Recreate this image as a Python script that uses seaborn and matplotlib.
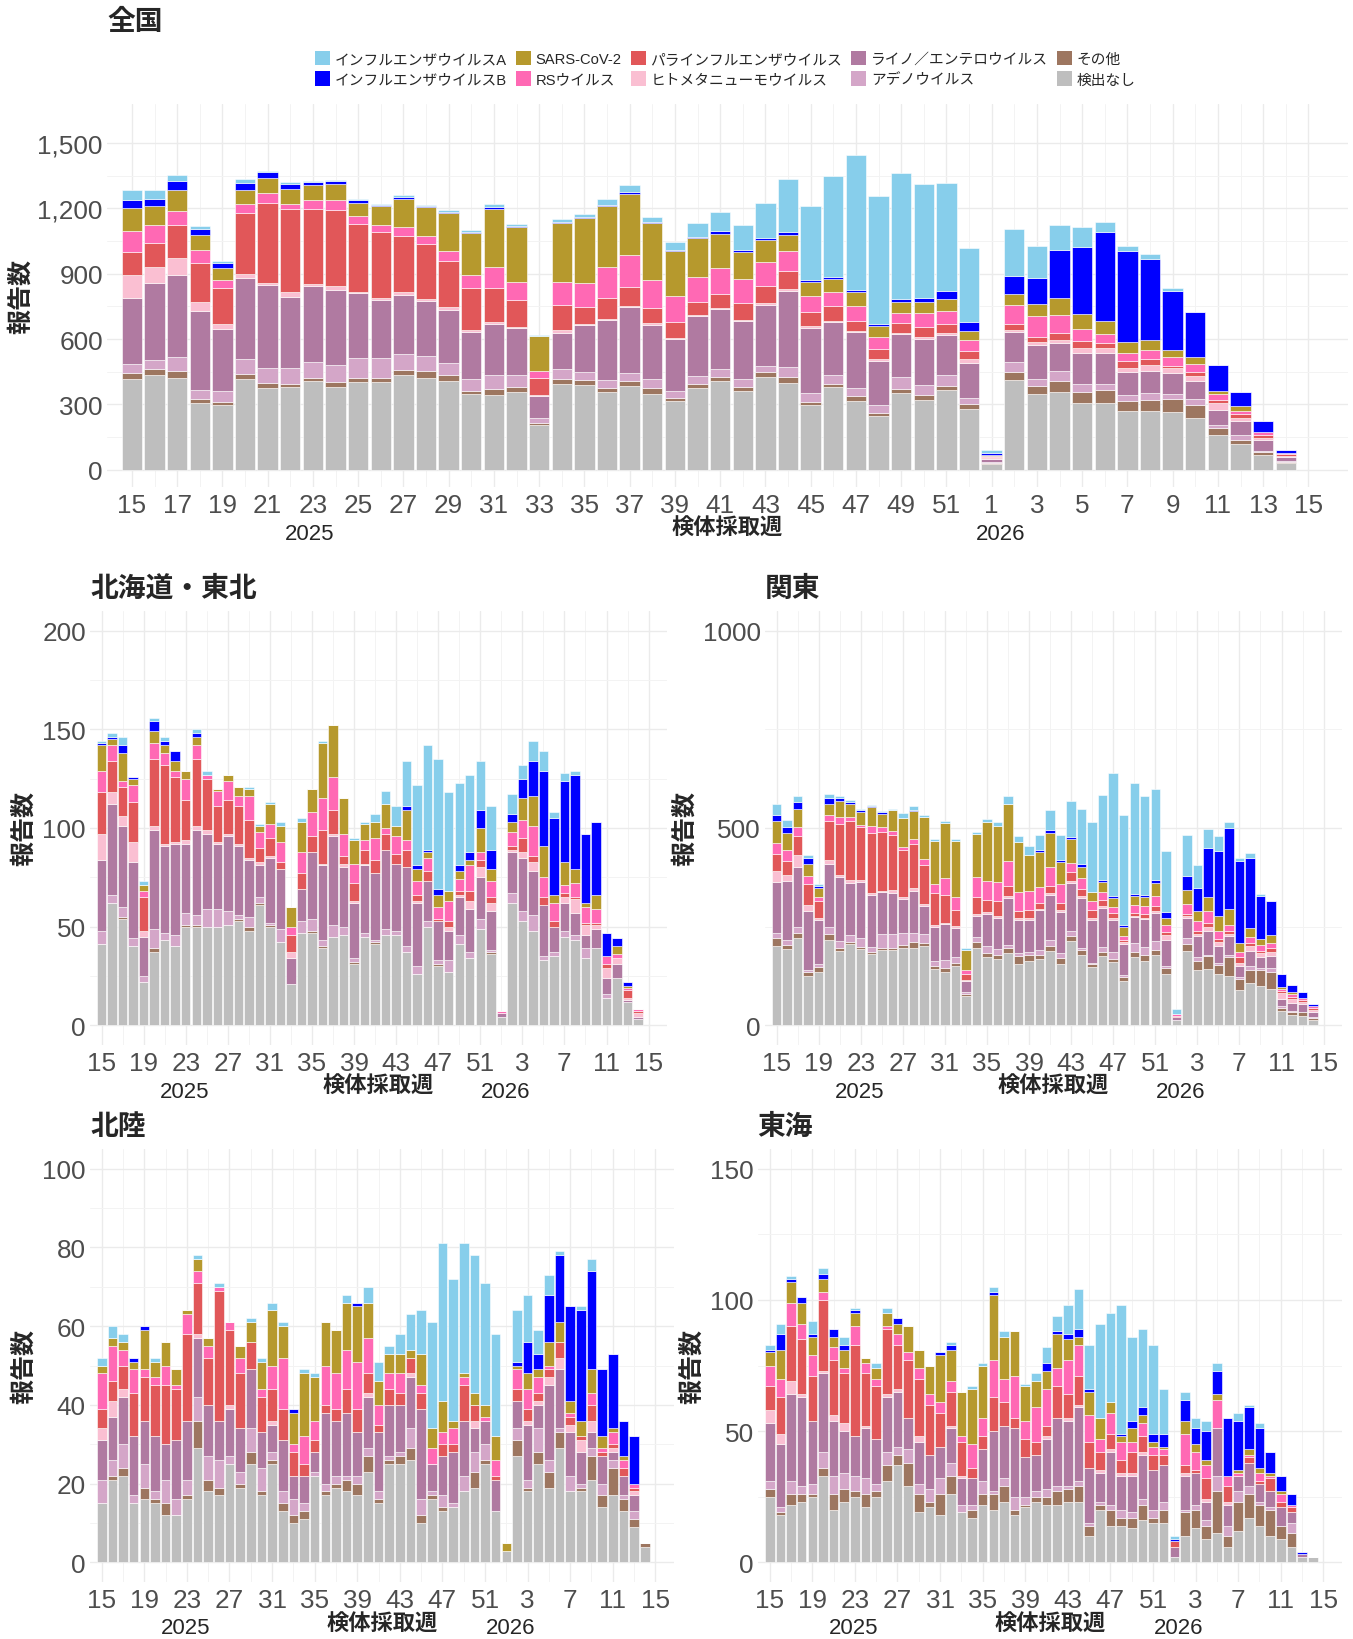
import pandas as pd
import matplotlib
matplotlib.use("Agg")
import matplotlib.pyplot as plt
from matplotlib.patches import Patch
from matplotlib.transforms import blended_transform_factory
import seaborn as sns

# stacking order as in the source: first item on top, last at the bottom
categories = ["インフルエンザウイルスA", "インフルエンザウイルスB", "SARS-CoV-2", "RSウイルス",
              "パラインフルエンザウイルス", "ヒトメタニューモウイルス", "ライノ／エンテロウイルス",
              "アデノウイルス", "その他", "検出なし"]
colors = ["#87CEEB", "#0000FF", "#B6992D", "#FF69B4", "#E15759",
          "#FABFD2", "#B07AA1", "#D4A6C8", "#9D7660", "#BEBEBE"]

# 2025 w15 .. w52, 2026 w1 .. w14 (last tick label 15 has no bar)
weeks = list(range(15, 53)) + list(range(1, 15))
week_labels = weeks + [15]

# ---- 全国 ----
nat_flu_a = [43, 41, 28, 11, 9, 18, 8, 9, 6, 6, 6, 3, 9, 5, 9, 9, 12, 9, 6, 15, 15, 26, 32, 23, 34, 63, 89, 115, 162, 242, 344, 464, 623, 591, 579, 527, 496, 341,
             11, 217, 149, 115, 90, 46, 24, 24, 11, 2, 0, 0, 0, 0]
nat_flu_b = [37, 35, 38, 31, 21, 34, 24, 20, 14, 12, 12, 5, 9, 6, 6, 6, 9, 6, 0, 3, 5, 6, 8, 6, 6, 5, 11, 8, 9, 12, 8, 8, 8, 6, 15, 18, 35, 40,
             8, 81, 118, 219, 308, 407, 418, 371, 271, 205, 118, 66, 49, 11]
nat_sars = [107, 87, 96, 66, 54, 61, 70, 69, 67, 75, 61, 89, 127, 133, 173, 194, 269, 251, 159, 273, 297, 283, 280, 262, 204, 181, 156, 122, 100, 77, 63, 63, 66, 54, 51, 51, 57, 41,
            6, 51, 57, 77, 69, 61, 52, 46, 32, 35, 15, 21, 0, 0]
nat_rsv = [96, 80, 64, 61, 38, 43, 49, 24, 40, 44, 35, 31, 43, 38, 47, 58, 93, 84, 34, 104, 112, 139, 147, 127, 124, 113, 122, 110, 109, 92, 73, 64, 67, 54, 47, 64, 61, 54,
           6, 87, 95, 83, 58, 41, 37, 40, 41, 35, 28, 14, 15, 8]
nat_para = [104, 112, 153, 181, 168, 279, 366, 384, 348, 352, 314, 303, 259, 250, 213, 193, 158, 121, 78, 118, 77, 98, 90, 70, 73, 60, 63, 78, 78, 80, 63, 66, 46, 46, 44, 47, 40, 34,
            6, 29, 24, 31, 31, 23, 31, 29, 12, 18, 12, 20, 15, 9]
nat_hmpv = [106, 72, 80, 41, 20, 20, 8, 20, 9, 18, 3, 9, 11, 11, 11, 12, 9, 8, 6, 11, 5, 6, 6, 8, 5, 6, 6, 8, 11, 11, 11, 8, 6, 8, 6, 9, 11, 21,
            3, 9, 12, 15, 23, 21, 18, 26, 23, 21, 31, 15, 8, 3]
nat_rhino = [303, 354, 375, 363, 288, 374, 383, 329, 348, 343, 300, 268, 274, 254, 245, 216, 236, 213, 98, 165, 217, 273, 302, 250, 236, 274, 277, 263, 279, 349, 300, 240, 254, 201, 198, 207, 181, 159,
             12, 138, 156, 130, 141, 142, 104, 100, 96, 86, 72, 64, 49, 17]
nat_adeno = [44, 44, 67, 41, 49, 67, 70, 70, 73, 80, 92, 90, 73, 66, 57, 55, 61, 57, 24, 49, 38, 37, 38, 41, 31, 37, 34, 37, 29, 47, 41, 44, 40, 40, 52, 47, 54, 29,
             5, 46, 35, 47, 37, 28, 29, 32, 24, 26, 15, 20, 5, 5]
nat_other = [28, 26, 28, 15, 15, 24, 21, 14, 14, 21, 20, 17, 21, 32, 24, 11, 28, 21, 9, 23, 20, 21, 21, 29, 17, 18, 20, 21, 21, 26, 15, 12, 23, 12, 20, 26, 18, 23,
             5, 35, 35, 47, 52, 61, 47, 51, 58, 58, 28, 21, 15, 8]
nat_none = [415, 435, 423, 308, 295, 415, 375, 381, 407, 381, 401, 404, 436, 423, 409, 348, 344, 358, 205, 392, 390, 355, 384, 346, 314, 377, 406, 360, 426, 398, 295, 380, 314, 246, 352, 318, 364, 277,
            26, 413, 348, 358, 306, 306, 268, 271, 265, 239, 161, 116, 66, 28]

# ---- 北海道・東北 ----
hok_flu_a = [1, 2, 4, 0, 2, 2, 2, 0, 0, 2, 2, 0, 0, 0, 1, 1, 1, 2, 0, 2, 0, 1, 0, 0, 1, 1, 4, 7, 10, 23, 41, 53, 66, 50, 42, 39, 25, 22,
             0, 10, 7, 10, 10, 3, 4, 2, 0, 0, 0, 0, 0, 0]
hok_flu_b = [1, 1, 4, 1, 0, 5, 2, 5, 0, 2, 0, 0, 0, 0, 0, 0, 0, 0, 0, 0, 0, 0, 0, 0, 0, 0, 0, 0, 0, 2, 2, 1, 3, 0, 3, 4, 9, 10,
             0, 4, 10, 18, 38, 39, 41, 48, 35, 37, 12, 4, 2, 0]
hok_sars = [13, 3, 14, 3, 3, 6, 4, 5, 4, 4, 0, 1, 3, 5, 4, 3, 10, 8, 10, 15, 12, 28, 26, 18, 12, 8, 8, 12, 5, 15, 6, 3, 6, 5, 4, 3, 12, 6,
            0, 5, 11, 15, 16, 4, 12, 7, 2, 7, 0, 4, 1, 0]
hok_rsv = [11, 8, 3, 9, 3, 8, 6, 3, 11, 7, 2, 8, 10, 5, 12, 8, 7, 10, 4, 11, 12, 16, 17, 11, 10, 5, 11, 3, 9, 5, 7, 7, 6, 10, 6, 13, 4, 8,
           1, 7, 9, 15, 10, 9, 4, 7, 8, 7, 4, 2, 1, 1]
hok_para = [21, 16, 15, 20, 17, 34, 40, 33, 20, 34, 26, 18, 17, 19, 19, 7, 9, 4, 9, 8, 8, 17, 12, 4, 9, 7, 7, 8, 5, 9, 3, 5, 1, 3, 2, 5, 4, 3,
            0, 2, 7, 3, 4, 3, 2, 1, 1, 1, 2, 0, 4, 1]
hok_hmpv = [13, 6, 5, 10, 3, 2, 1, 1, 2, 2, 2, 1, 1, 1, 1, 2, 1, 0, 3, 0, 0, 1, 1, 2, 1, 1, 0, 0, 0, 0, 1, 0, 0, 2, 1, 4, 5, 4,
            0, 1, 3, 5, 0, 0, 3, 7, 5, 2, 5, 3, 1, 2]
hok_rhino = [36, 46, 41, 39, 20, 50, 44, 46, 35, 43, 38, 33, 38, 35, 29, 16, 33, 30, 13, 16, 34, 38, 45, 30, 28, 34, 34, 40, 34, 40, 32, 20, 20, 15, 19, 22, 21, 20,
             2, 21, 27, 22, 26, 13, 14, 11, 7, 10, 8, 7, 1, 1]
hok_adeno = [7, 4, 5, 4, 3, 10, 4, 6, 6, 5, 9, 9, 7, 2, 5, 3, 1, 7, 0, 6, 6, 3, 6, 4, 2, 2, 1, 3, 2, 3, 4, 3, 2, 6, 5, 3, 5, 1,
             0, 5, 5, 8, 2, 2, 3, 3, 5, 0, 2, 0, 0, 0]
hok_other = [0, 0, 1, 0, 0, 2, 0, 0, 1, 1, 0, 0, 0, 1, 2, 1, 1, 0, 0, 0, 1, 1, 0, 0, 1, 0, 1, 0, 0, 0, 0, 0, 1, 0, 0, 0, 0, 1,
             0, 0, 0, 0, 0, 0, 0, 0, 0, 0, 0, 0, 0, 0]
hok_none = [41, 62, 54, 40, 22, 37, 43, 40, 50, 50, 50, 50, 51, 53, 48, 61, 50, 42, 21, 47, 47, 39, 45, 46, 31, 45, 41, 46, 46, 37, 26, 50, 30, 27, 41, 34, 49, 36,
            4, 62, 53, 48, 33, 35, 45, 43, 34, 39, 14, 24, 12, 3]

# ---- 関東 ----
kan_flu_a = [26, 18, 13, 8, 5, 12, 4, 5, 2, 2, 3, 3, 12, 9, 5, 5, 6, 6, 5, 5, 9, 12, 22, 16, 23, 38, 52, 63, 92, 140, 178, 214, 312, 281, 281, 250, 229, 155,
             12, 103, 57, 48, 37, 14, 9, 11, 5, 0, 0, 2, 0, 0]
kan_flu_b = [16, 14, 18, 14, 5, 14, 8, 6, 4, 4, 5, 0, 0, 4, 0, 0, 0, 0, 0, 0, 0, 0, 0, 0, 0, 5, 6, 6, 6, 6, 0, 5, 5, 3, 5, 5, 9, 15,
             0, 36, 59, 124, 165, 206, 208, 179, 109, 86, 33, 16, 14, 6]
kan_sars = [57, 43, 47, 30, 23, 29, 39, 33, 33, 49, 33, 52, 72, 71, 107, 108, 138, 140, 52, 110, 149, 140, 144, 126, 91, 89, 86, 54, 59, 28, 23, 27, 24, 24, 23, 24, 32, 18,
            0, 36, 24, 36, 39, 41, 23, 23, 14, 21, 5, 7, 0, 0]
kan_rsv = [26, 29, 23, 21, 11, 14, 18, 9, 5, 17, 11, 11, 9, 11, 16, 24, 43, 34, 10, 50, 47, 50, 62, 48, 48, 40, 48, 50, 23, 29, 23, 20, 14, 9, 20, 19, 26, 16,
           5, 24, 27, 30, 20, 14, 11, 14, 16, 14, 7, 6, 5, 5]
kan_para = [45, 36, 48, 53, 43, 100, 131, 152, 134, 152, 150, 138, 118, 113, 97, 81, 71, 41, 15, 43, 32, 36, 27, 18, 20, 16, 20, 18, 24, 18, 18, 15, 14, 7, 7, 11, 12, 8,
            3, 7, 7, 11, 7, 7, 16, 9, 5, 9, 5, 6, 6, 5]
kan_hmpv = [28, 15, 29, 16, 5, 8, 5, 6, 5, 5, 4, 9, 5, 7, 5, 5, 4, 4, 3, 5, 5, 5, 5, 5, 5, 3, 3, 5, 5, 5, 5, 5, 5, 4, 3, 3, 5, 13,
            0, 5, 5, 9, 11, 6, 9, 12, 11, 11, 15, 9, 5, 5]
kan_rhino = [129, 150, 154, 149, 111, 161, 161, 133, 144, 131, 105, 104, 86, 107, 72, 86, 91, 75, 26, 53, 79, 79, 118, 84, 81, 101, 116, 104, 120, 127, 109, 98, 81, 78, 65, 70, 71, 65,
             6, 50, 54, 63, 41, 48, 27, 38, 27, 30, 18, 21, 21, 11]
kan_adeno = [13, 11, 14, 6, 9, 18, 18, 16, 21, 14, 36, 36, 32, 23, 23, 14, 20, 14, 5, 14, 19, 16, 7, 8, 9, 12, 14, 12, 14, 3, 3, 14, 16, 6, 23, 21, 24, 6,
             0, 15, 9, 2, 5, 6, 5, 11, 6, 11, 3, 3, 0, 4]
kan_other = [18, 11, 14, 9, 11, 14, 8, 7, 6, 5, 6, 5, 7, 14, 7, 6, 9, 9, 5, 14, 9, 11, 13, 19, 14, 11, 14, 14, 12, 14, 9, 9, 9, 9, 14, 15, 12, 16,
             0, 19, 23, 33, 25, 48, 27, 33, 39, 42, 9, 8, 9, 4]
kan_none = [202, 193, 220, 125, 136, 217, 188, 205, 193, 180, 190, 190, 196, 196, 201, 143, 136, 149, 75, 196, 174, 167, 184, 156, 163, 167, 187, 156, 214, 178, 147, 176, 160, 113, 172, 163, 178, 129,
            14, 187, 140, 142, 129, 124, 90, 106, 100, 92, 36, 25, 24, 14]

# ---- 北陸 ----
hkr_flu_a = [2, 3, 2, 0, 0, 1, 0, 0, 0, 1, 0, 1, 0, 0, 1, 1, 2, 1, 0, 1, 1, 0, 0, 2, 0, 4, 5, 2, 5, 9, 11, 27, 40, 36, 33, 35, 31, 26,
             0, 13, 12, 6, 5, 1, 0, 1, 3, 0, 0, 0, 0, 0]
hkr_flu_b = [0, 0, 0, 1, 1, 0, 0, 0, 0, 0, 0, 0, 0, 0, 0, 0, 0, 0, 1, 0, 0, 0, 0, 0, 1, 0, 0, 0, 0, 0, 0, 0, 0, 0, 0, 0, 0, 0,
             0, 1, 8, 4, 12, 17, 24, 28, 25, 17, 19, 9, 12, 0]
hkr_sars = [2, 2, 2, 2, 10, 4, 6, 4, 1, 3, 2, 0, 0, 3, 5, 7, 14, 8, 8, 16, 11, 11, 11, 12, 14, 9, 6, 5, 5, 2, 8, 5, 8, 2, 1, 3, 3, 6,
            2, 1, 4, 2, 6, 5, 3, 4, 6, 3, 1, 1, 0, 0]
hkr_rsv = [9, 9, 4, 6, 2, 2, 5, 1, 5, 3, 3, 1, 2, 4, 0, 2, 6, 13, 2, 7, 5, 10, 9, 10, 12, 9, 5, 4, 5, 0, 2, 4, 3, 4, 2, 0, 1, 4,
           0, 5, 5, 4, 1, 0, 1, 0, 3, 1, 3, 2, 1, 0]
hkr_para = [5, 5, 6, 11, 11, 13, 15, 13, 22, 13, 12, 33, 19, 14, 7, 9, 8, 8, 6, 3, 3, 2, 3, 6, 6, 5, 2, 4, 3, 4, 4, 0, 3, 2, 9, 4, 0, 1,
            0, 3, 3, 2, 2, 4, 2, 1, 4, 1, 1, 2, 1, 0]
hkr_hmpv = [3, 4, 2, 0, 0, 0, 0, 0, 0, 1, 0, 0, 1, 0, 0, 0, 1, 0, 0, 0, 0, 0, 0, 0, 0, 1, 0, 0, 0, 1, 0, 0, 0, 0, 0, 2, 0, 0,
            0, 0, 1, 1, 2, 3, 2, 3, 3, 0, 1, 0, 1, 0]
hkr_rhino = [10, 11, 12, 15, 11, 14, 9, 15, 15, 15, 13, 10, 12, 11, 15, 9, 7, 13, 6, 7, 5, 18, 14, 16, 11, 13, 15, 13, 12, 13, 23, 7, 10, 13, 14, 6, 6, 8,
             0, 7, 14, 6, 19, 15, 11, 8, 4, 7, 2, 5, 4, 0]
hkr_adeno = [6, 4, 6, 2, 6, 2, 6, 4, 4, 6, 6, 7, 2, 3, 6, 6, 2, 3, 4, 2, 1, 2, 2, 1, 2, 2, 2, 1, 1, 5, 4, 1, 3, 1, 4, 5, 4, 0,
             0, 3, 2, 6, 3, 1, 4, 1, 2, 3, 2, 1, 2, 0]
hkr_other = [0, 1, 2, 0, 3, 1, 3, 0, 1, 7, 3, 2, 0, 1, 3, 1, 1, 2, 2, 2, 0, 1, 1, 3, 3, 4, 1, 1, 2, 3, 2, 1, 1, 0, 0, 4, 1, 0,
             0, 4, 1, 3, 4, 4, 0, 1, 6, 3, 7, 3, 2, 1]
hkr_none = [15, 21, 22, 15, 16, 15, 12, 12, 16, 29, 18, 17, 25, 19, 25, 17, 25, 13, 10, 11, 22, 17, 19, 18, 17, 23, 15, 25, 25, 26, 10, 16, 13, 14, 18, 19, 25, 13,
            3, 27, 18, 25, 19, 29, 18, 18, 21, 14, 17, 13, 9, 4]

# ---- 東海 ----
tok_flu_a = [2, 4, 1, 0, 5, 2, 0, 3, 1, 0, 2, 2, 0, 0, 0, 0, 0, 1, 0, 1, 1, 2, 2, 0, 1, 3, 6, 6, 11, 15, 17, 36, 34, 49, 32, 30, 34, 17,
             1, 3, 4, 4, 3, 0, 3, 1, 2, 0, 0, 0, 0, 0]
tok_flu_b = [1, 6, 1, 2, 1, 2, 3, 2, 1, 0, 0, 0, 2, 0, 0, 0, 1, 2, 0, 0, 0, 1, 0, 0, 0, 0, 3, 1, 2, 3, 1, 0, 0, 1, 3, 3, 3, 5,
             1, 8, 6, 11, 9, 22, 19, 16, 15, 8, 6, 4, 1, 0]
tok_sars = [5, 11, 8, 8, 7, 5, 4, 7, 5, 2, 4, 5, 4, 10, 7, 11, 18, 12, 17, 21, 20, 25, 16, 17, 13, 10, 7, 13, 8, 3, 9, 8, 4, 2, 5, 3, 2, 1,
            0, 5, 3, 2, 2, 0, 1, 2, 2, 1, 1, 0, 0, 0]
tok_rsv = [8, 7, 9, 6, 8, 3, 5, 2, 7, 4, 3, 1, 4, 3, 4, 4, 4, 4, 2, 9, 7, 14, 9, 16, 7, 13, 14, 7, 13, 12, 10, 5, 8, 7, 4, 5, 3, 2,
           0, 12, 7, 5, 11, 4, 1, 1, 3, 1, 3, 1, 0, 0]
tok_para = [9, 14, 21, 21, 17, 27, 21, 19, 35, 20, 20, 25, 17, 22, 22, 19, 13, 13, 13, 4, 5, 13, 9, 4, 7, 5, 4, 12, 9, 11, 10, 7, 6, 5, 8, 6, 6, 4,
            2, 3, 1, 8, 0, 6, 0, 2, 1, 5, 2, 2, 0, 0]
tok_hmpv = [5, 4, 5, 1, 0, 1, 2, 3, 0, 1, 0, 1, 1, 0, 2, 0, 0, 1, 1, 0, 0, 0, 0, 0, 0, 0, 1, 0, 1, 1, 0, 1, 1, 1, 1, 1, 0, 0,
            0, 1, 0, 1, 0, 1, 0, 0, 0, 0, 0, 0, 0, 0]
tok_rhino = [22, 24, 33, 34, 24, 30, 21, 16, 15, 19, 17, 21, 21, 12, 16, 13, 12, 13, 10, 10, 12, 23, 20, 26, 15, 14, 19, 26, 25, 28, 21, 11, 20, 13, 14, 17, 15, 14,
             4, 13, 12, 7, 18, 8, 6, 9, 7, 6, 7, 4, 1, 0]
tok_adeno = [3, 2, 5, 3, 4, 6, 7, 6, 6, 6, 3, 5, 3, 5, 4, 5, 6, 5, 3, 2, 5, 1, 3, 5, 3, 2, 3, 2, 1, 2, 1, 1, 2, 3, 2, 2, 3, 3,
             0, 1, 2, 2, 6, 4, 4, 3, 1, 1, 0, 4, 0, 0]
tok_other = [3, 1, 4, 3, 1, 3, 6, 5, 2, 5, 2, 6, 4, 9, 7, 2, 8, 7, 0, 3, 4, 6, 6, 2, 1, 2, 3, 5, 5, 6, 4, 2, 6, 3, 4, 6, 2, 5,
             0, 9, 7, 5, 16, 4, 11, 9, 8, 10, 5, 5, 0, 0]
tok_none = [25, 18, 22, 23, 25, 33, 20, 23, 25, 21, 25, 31, 37, 29, 19, 21, 18, 26, 19, 17, 22, 20, 23, 18, 21, 23, 22, 22, 23, 23, 10, 20, 14, 14, 13, 16, 15, 15,
            2, 10, 13, 9, 11, 6, 12, 17, 14, 10, 9, 6, 2, 2]

W, H = 1353, 1640
sns.set_theme(style="whitegrid", rc={"axes.edgecolor": "white", "grid.color": "#EBEBEB"})
plt.rcParams["font.family"] = ["Liberation Sans", "Noto Sans CJK JP"]
TICK_C = "#4D4D4D"

fig = plt.figure(figsize=(W / 100, H / 100), dpi=100)


def long_frame(series):
    rows = []
    for cat, vals in zip(categories, series):
        for i, v in enumerate(vals):
            rows.append((i, cat, v))
    return pd.DataFrame(rows, columns=["idx", "cat", "n"])


def panel(series, box, ymax, ystep, xstep, title, title_xy, ylab_x, xlab_y, year_y,
          comma=False):
    left, right, top, bottom = box
    ax = fig.add_axes([left / W, 1 - bottom / H, (right - left) / W, (bottom - top) / H])
    sns.histplot(data=long_frame(series), x="idx", weights="n", hue="cat",
                 hue_order=categories, palette=colors, multiple="stack",
                 discrete=True, shrink=0.9, alpha=1, edgecolor="white",
                 linewidth=0.4, legend=False, ax=ax)
    ax.set_xlim(-1.1, 53.75)
    ax.set_ylim(-0.05 * ymax, 1.05 * ymax)
    xt = list(range(0, 53, xstep))
    ax.set_xticks(xt)
    ax.set_xticklabels([str(week_labels[i]) for i in xt])
    ax.set_xticks(list(range(xstep // 2, 53, xstep)), minor=True)
    yt = list(range(0, ymax + 1, ystep))
    ax.set_yticks(yt)
    ax.set_yticklabels([f"{v:,}" if comma else str(v) for v in yt])
    ax.set_yticks([v + ystep / 2 for v in yt[:-1]], minor=True)
    ax.grid(which="major", color="#EBEBEB", linewidth=1.0)
    ax.grid(which="minor", color="#F3F3F3", linewidth=0.7)
    ax.set_axisbelow(True)
    for s in ax.spines.values():
        s.set_visible(False)
    ax.tick_params(axis="both", which="both", length=0, labelsize=18.8, labelcolor=TICK_C)
    ax.tick_params(axis="x", pad=4.5)
    ax.tick_params(axis="y", pad=3)
    ax.set_xlabel("")
    ax.set_ylabel("")

    fig.text(title_xy[0] / W, 1 - title_xy[1] / H, title, fontsize=20, fontweight="bold",
             ha="left", va="center")
    fig.text(ylab_x / W, 1 - (top + bottom) / 2 / H, "報告数", fontsize=18,
             fontweight="bold", rotation=90, ha="center", va="center")
    tr_x = blended_transform_factory(ax.transAxes, fig.transFigure)
    ax.text(0.5, 1 - xlab_y / H, "検体採取週", transform=tr_x, fontsize=16,
            fontweight="bold", ha="center", va="center")
    tr_d = blended_transform_factory(ax.transData, fig.transFigure)
    ax.text(7.85, 1 - year_y / H, "2025", transform=tr_d, fontsize=16, ha="center", va="center")
    ax.text(38.4, 1 - year_y / H, "2026", transform=tr_d, fontsize=16, ha="center", va="center")
    return ax


nat = [nat_flu_a, nat_flu_b, nat_sars, nat_rsv, nat_para, nat_hmpv, nat_rhino, nat_adeno, nat_other, nat_none]
hok = [hok_flu_a, hok_flu_b, hok_sars, hok_rsv, hok_para, hok_hmpv, hok_rhino, hok_adeno, hok_other, hok_none]
kan = [kan_flu_a, kan_flu_b, kan_sars, kan_rsv, kan_para, kan_hmpv, kan_rhino, kan_adeno, kan_other, kan_none]
hkr = [hkr_flu_a, hkr_flu_b, hkr_sars, hkr_rsv, hkr_para, hkr_hmpv, hkr_rhino, hkr_adeno, hkr_other, hkr_none]
tok = [tok_flu_a, tok_flu_b, tok_sars, tok_rsv, tok_para, tok_hmpv, tok_rhino, tok_adeno, tok_other, tok_none]

panel(nat, (107, 1348, 105, 488), 1600, 300, 2, "全国", (107, 23), 21, 529, 535, comma=True)
panel(hok, (90, 667, 612, 1046), 200, 50, 4, "北海道・東北", (90, 590), 24, 1087, 1092)
panel(kan, (765, 1342, 612, 1046), 1000, 500, 4, "関東", (765, 590), 685, 1087, 1092)
panel(hkr, (90, 674, 1150, 1583), 100, 20, 4, "北陸", (90, 1128), 24, 1625, 1629)
panel(tok, (758, 1342, 1150, 1583), 150, 50, 4, "東海", (757, 1128), 692, 1625, 1629)

handles = [Patch(facecolor=c, edgecolor="none") for c in colors]
fig.legend(handles, categories, ncol=5, loc="upper left",
           bbox_to_anchor=(315 / W, 1 - 52 / H), frameon=False, fontsize=10.6,
           handlelength=1.05, handleheight=1.1, handletextpad=0.3,
           columnspacing=0.6, labelspacing=0.36, borderpad=0, borderaxespad=0)

fig.savefig("out.png", dpi=100)
